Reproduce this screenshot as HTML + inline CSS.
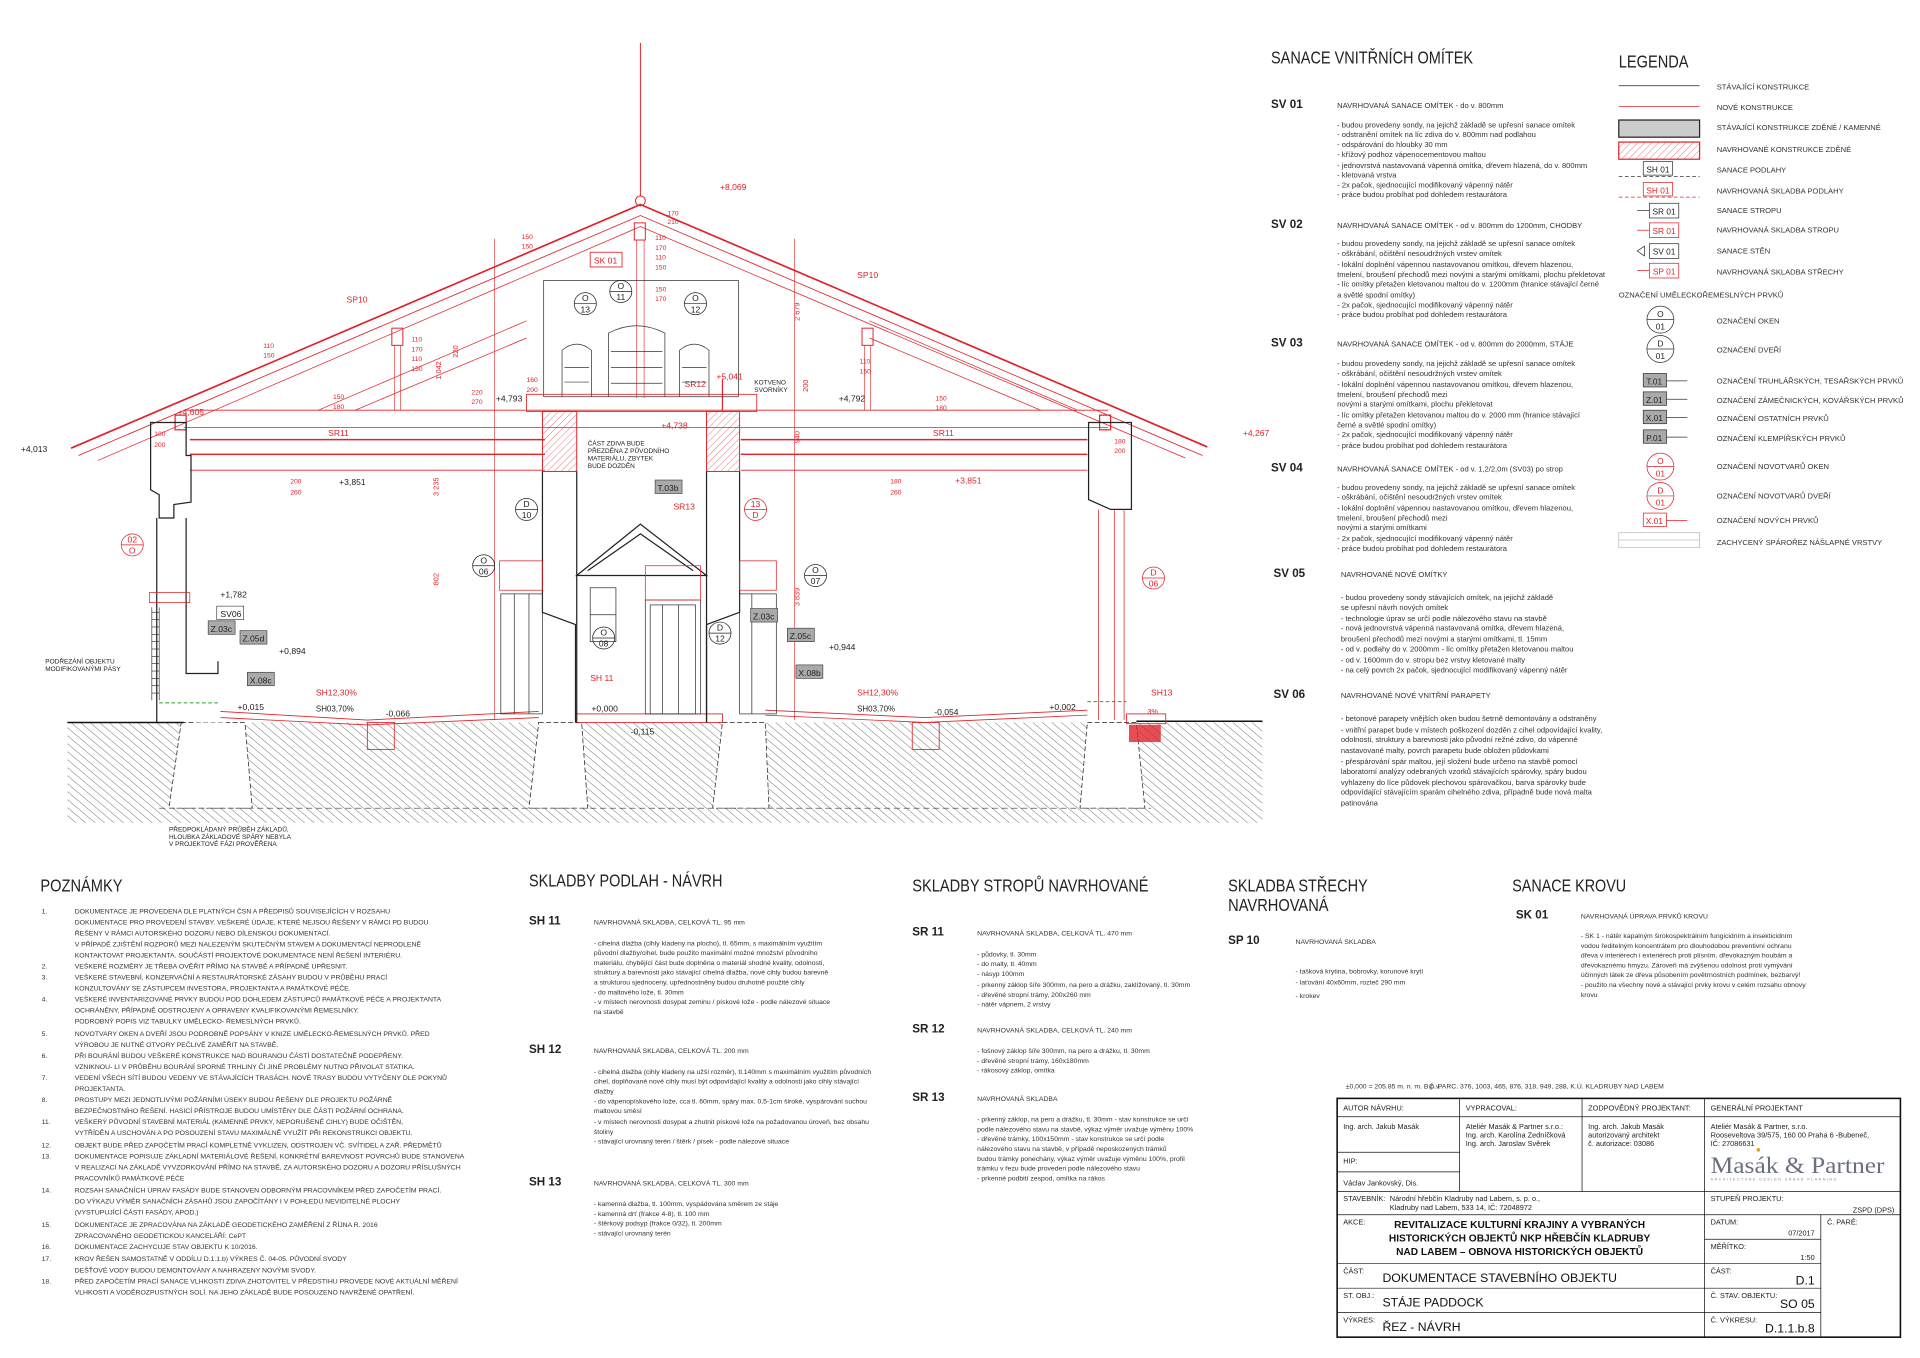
<!DOCTYPE html>
<html><head><meta charset="utf-8"><style>
html,body{margin:0;padding:0;background:#fff;}
svg{display:block}
text{font-family:"Liberation Sans Narrow","Liberation Sans",sans-serif;}
.r{fill:#e0222a}.k{fill:#222}
.h{font-size:14px;fill:#222}
.b{font-size:9.5px;font-weight:bold;fill:#222}
.s{font-size:6.2px;fill:#333}
.t{font-size:5.6px;fill:#333}
.d{font-size:7px}
</style></head><body>
<svg width="1920" height="1358" viewBox="0 0 1568 1109" xmlns="http://www.w3.org/2000/svg">
<defs>
<pattern id="hat" width="5" height="5" patternUnits="userSpaceOnUse" patternTransform="rotate(-50)">
<line x1="0" y1="0" x2="0" y2="5" stroke="#444" stroke-width="0.6"/></pattern>
<pattern id="rhat" width="4" height="4" patternUnits="userSpaceOnUse" patternTransform="rotate(45)">
<line x1="0" y1="0" x2="0" y2="4" stroke="#e0222a" stroke-width="0.5"/></pattern>
</defs>

<!-- ground hatch -->
<rect x="55" y="590" width="976" height="82" fill="url(#hat)"/>
<g fill="#fff" stroke="#222" stroke-width="0.6" stroke-dasharray="4,2">
<polygon points="148,590 200,590 206,660 138,660"/>
<polygon points="158,590 185,590 190,640 162,640" stroke="none"/>
<polygon points="440,590 475,590 480,660 432,660"/>
<polygon points="590,590 625,590 628,660 582,660"/>
<polygon points="888,590 928,590 935,660 882,660"/>
</g>
<line x1="130" y1="660" x2="940" y2="660" stroke="#333" stroke-width="0.6" stroke-dasharray="5,3"/>
<line x1="55" y1="590" x2="150" y2="590" stroke="#111" stroke-width="1.2"/>
<line x1="928" y1="589" x2="1031" y2="589" stroke="#111" stroke-width="1.2"/>

<!-- floors -->
<g stroke="#e0222a" stroke-width="0.7" fill="none">
<path d="M180,586 L300,592 L440,586"/><path d="M180,581 L300,588 L440,581"/>
<path d="M625,584 L755,590 L888,584"/><path d="M625,580 L755,586 L888,580"/>
<rect x="470" y="583" width="120" height="7"/>
<rect x="300" y="590" width="22" height="22"/><rect x="745" y="590" width="22" height="22"/>
<rect x="920" y="583" width="32" height="8"/>
</g>
<rect x="922" y="592" width="26" height="14" fill="#e0222a" opacity="0.8"/>
<g stroke="#2a2" stroke-width="0.8" stroke-dasharray="3,2"><line x1="130" y1="574" x2="180" y2="574"/><line x1="888" y1="573" x2="920" y2="573"/></g>

<!-- roof -->
<g stroke="#e0222a" fill="none">
<polyline points="58,366 523,167 986,365" stroke-width="1.4"/>
<polyline points="64,372 523,176 982,372" stroke-width="0.7"/>
<polyline points="80,376 523,185 968,374" stroke-width="0.6"/>
<circle cx="523" cy="164" r="4" stroke-width="0.8"/>
<line x1="523" y1="35" x2="523" y2="160" stroke-width="0.8"/>
<line x1="150" y1="335" x2="905" y2="335" stroke-width="0.7"/>
<line x1="150" y1="349" x2="905" y2="349" stroke-width="0.7"/>
<line x1="155" y1="359" x2="445" y2="359" stroke-width="1.2"/><line x1="605" y1="359" x2="888" y2="359" stroke-width="1.2"/>
<line x1="155" y1="371" x2="445" y2="371" stroke-width="1.2"/><line x1="605" y1="371" x2="888" y2="371" stroke-width="1.2"/>
<line x1="155" y1="384" x2="445" y2="384" stroke-width="0.7"/><line x1="605" y1="384" x2="888" y2="384" stroke-width="0.7"/>
<line x1="260" y1="335" x2="430" y2="262" stroke-width="0.6"/><line x1="290" y1="335" x2="430" y2="276" stroke-width="0.6"/>
<line x1="880" y1="335" x2="710" y2="262" stroke-width="0.6"/><line x1="850" y1="335" x2="710" y2="276" stroke-width="0.6"/>
<rect x="320" y="268" width="9" height="14" stroke-width="0.8"/><line x1="322" y1="282" x2="322" y2="335" stroke-width="0.5"/><line x1="327" y1="282" x2="327" y2="335" stroke-width="0.5"/>
<rect x="704" y="268" width="9" height="14" stroke-width="0.8"/><line x1="706" y1="282" x2="706" y2="335" stroke-width="0.5"/><line x1="711" y1="282" x2="711" y2="335" stroke-width="0.5"/>
<rect x="518" y="182" width="9" height="14" stroke-width="0.8"/><line x1="520" y1="196" x2="520" y2="325" stroke-width="0.5"/><line x1="526" y1="196" x2="526" y2="325" stroke-width="0.5"/>
<rect x="143" y="339" width="9" height="12"/><rect x="898" y="339" width="9" height="12"/>
<line x1="404" y1="195" x2="404" y2="588" stroke-width="0.5"/>
<line x1="649" y1="195" x2="649" y2="588" stroke-width="0.5"/>
<line x1="590" y1="310" x2="590" y2="336"/>
</g>
<!-- dormer -->
<g stroke="#333" fill="none" stroke-width="0.6">
<rect x="444" y="229" width="159" height="95"/>
<path d="M459,324 V286 Q471,276 483,286 V324"/><path d="M497,324 V272 Q520,260 543,272 V324"/><path d="M555,324 V286 Q567,276 579,286 V324"/>
<line x1="461" y1="300" x2="481" y2="300"/><line x1="461" y1="312" x2="481" y2="312"/>
<line x1="499" y1="287" x2="541" y2="287"/><line x1="499" y1="300" x2="541" y2="300"/><line x1="499" y1="313" x2="541" y2="313"/>
<line x1="557" y1="300" x2="577" y2="300"/><line x1="557" y1="312" x2="577" y2="312"/>
</g>
<g stroke="#e0222a" fill="none" stroke-width="0.7"><rect x="430" y="322" width="188" height="14"/></g>
<rect x="443" y="336" width="28" height="49" fill="url(#rhat)" stroke="#e0222a" stroke-width="0.8"/>
<rect x="577" y="336" width="27" height="49" fill="url(#rhat)" stroke="#e0222a" stroke-width="0.8"/>
<!-- walls black -->
<g stroke="#222" fill="none" stroke-width="1">
<path d="M123,345 H152 V372 H156 V410 L142,412 V423 H130 V404 L123,400 Z"/>
<path d="M152,423 V550 H178 V540"/>
<line x1="128" y1="423" x2="128" y2="590"/>
<path d="M889,345 H924 V416 H907 L889,408 Z"/>
<path d="M443,385 V500 L470,510 V590"/><path d="M471,385 V590"/>
<path d="M604,385 V500 L577,510 V590"/><path d="M577,385 V590"/>
<path d="M471,470 L523,428 L577,470 Z"/><path d="M480,466 L523,436 L566,466"/>
</g>
<g stroke="#333" fill="none" stroke-width="0.6">
<rect x="482" y="480" width="21" height="44"/><line x1="482" y1="502" x2="503" y2="502"/>
<rect x="527" y="490" width="45" height="93"/><rect x="531" y="494" width="37" height="89"/>
<line x1="541" y1="494" x2="541" y2="583"/><line x1="554" y1="494" x2="554" y2="583"/>
<rect x="409" y="485" width="34" height="98"/><line x1="420" y1="485" x2="420" y2="583"/><line x1="432" y1="485" x2="432" y2="583"/>
<rect x="604" y="485" width="30" height="98"/><line x1="614" y1="485" x2="614" y2="583"/>
</g>
<g stroke="#e0222a" fill="none" stroke-width="0.6">
<line x1="897" y1="416" x2="897" y2="588"/><line x1="910" y1="416" x2="910" y2="588"/><line x1="918" y1="416" x2="918" y2="588"/>
<rect x="408" y="458" width="35" height="24"/><rect x="604" y="458" width="30" height="24"/><rect x="527" y="462" width="45" height="28"/>
<path d="M122,484 H155 V492 H122 Z"/>
</g>
<g stroke="#222" stroke-width="0.5">
<line x1="124" y1="496" x2="124" y2="572"/><line x1="130" y1="496" x2="130" y2="572"/>
<line x1="124" y1="500" x2="130" y2="500"/><line x1="124" y1="506" x2="130" y2="506"/><line x1="124" y1="512" x2="130" y2="512"/><line x1="124" y1="518" x2="130" y2="518"/><line x1="124" y1="524" x2="130" y2="524"/><line x1="124" y1="530" x2="130" y2="530"/><line x1="124" y1="536" x2="130" y2="536"/><line x1="124" y1="542" x2="130" y2="542"/><line x1="124" y1="548" x2="130" y2="548"/><line x1="124" y1="554" x2="130" y2="554"/><line x1="124" y1="560" x2="130" y2="560"/><line x1="124" y1="566" x2="130" y2="566"/>
</g>

<!-- red labels in drawing -->
<g class="r d">
<text x="588" y="155">+8,069</text><text x="283" y="247">SP10</text><text x="700" y="227">SP10</text>
<text x="268" y="356">SR11</text><text x="762" y="356">SR11</text><text x="559" y="316">SR12</text><text x="550" y="416">SR13</text>
<text x="145" y="339">+4,605</text><text x="1015" y="356">+4,267</text><text x="540" y="350">+4,738</text><text x="585" y="310">+5,041</text>
<text x="780" y="395">+3,851</text><text x="258" y="568">SH12,30%</text><text x="700" y="568">SH12,30%</text><text x="940" y="568">SH13</text><text x="482" y="556">SH 11</text>
<text x="545" y="176" font-size="5.5">170</text><text x="545" y="183" font-size="5.5">210</text>
<text x="426" y="195" font-size="5.5">150</text><text x="426" y="203" font-size="5.5">150</text>
<text x="535" y="196" font-size="5.5">110</text><text x="535" y="204" font-size="5.5">170</text><text x="535" y="212" font-size="5.5">110</text><text x="535" y="220" font-size="5.5">150</text>
<text x="535" y="238" font-size="5.5">150</text><text x="535" y="246" font-size="5.5">170</text>
<text x="215" y="284" font-size="5.5">110</text><text x="215" y="292" font-size="5.5">150</text>
<text x="336" y="279" font-size="5.5">110</text><text x="336" y="287" font-size="5.5">170</text><text x="336" y="295" font-size="5.5">110</text><text x="336" y="303" font-size="5.5">150</text>
<text x="272" y="326" font-size="5.5">150</text><text x="272" y="334" font-size="5.5">180</text>
<text x="385" y="322" font-size="5.5">220</text><text x="385" y="330" font-size="5.5">270</text>
<text x="430" y="312" font-size="5.5">160</text><text x="430" y="320" font-size="5.5">200</text>
<text x="702" y="297" font-size="5.5">110</text><text x="702" y="305" font-size="5.5">150</text>
<text x="764" y="327" font-size="5.5">150</text><text x="764" y="335" font-size="5.5">180</text>
<text x="126" y="356" font-size="5.5">180</text><text x="126" y="365" font-size="5.5">200</text>
<text x="910" y="362" font-size="5.5">180</text><text x="910" y="370" font-size="5.5">200</text>
<text x="237" y="395" font-size="5.5">200</text><text x="237" y="404" font-size="5.5">260</text>
<text x="727" y="395" font-size="5.5">180</text><text x="727" y="404" font-size="5.5">260</text>
<text x="374" y="292" font-size="6" transform="rotate(-90 374 292)">220</text>
<text x="360" y="310" font-size="6" transform="rotate(-90 360 310)">1 042</text>
<text x="358" y="405" font-size="6" transform="rotate(-90 358 405)">3 235</text>
<text x="358" y="478" font-size="6" transform="rotate(-90 358 478)">802</text>
<text x="653" y="262" font-size="6" transform="rotate(-90 653 262)">2 679</text>
<text x="660" y="320" font-size="6" transform="rotate(-90 660 320)">200</text>
<text x="653" y="362" font-size="6" transform="rotate(-90 653 362)">940</text>
<text x="653" y="495" font-size="6" transform="rotate(-90 653 495)">3 839</text>
<text x="937" y="583" font-size="6">3%</text>
</g>
<rect x="482" y="206" width="26" height="12" fill="none" stroke="#e0222a" stroke-width="0.7"/><text x="485" y="215" class="r d">SK 01</text>
<g class="k d">
<text x="17" y="369">+4,013</text><text x="405" y="328">+4,793</text><text x="685" y="328">+4,792</text><text x="277" y="396">+3,851</text>
<text x="180" y="488">+1,782</text><text x="228" y="534">+0,894</text><text x="677" y="531">+0,944</text><text x="194" y="580">+0,015</text>
<text x="483" y="581">+0,000</text><text x="315" y="585">-0,066</text><text x="515" y="600">-0,115</text><text x="763" y="584">-0,054</text><text x="857" y="580">+0,002</text>
<text x="258" y="581" font-size="6.5">SH03,70%</text><text x="700" y="581" font-size="6.5">SH03,70%</text>
</g>
<g class="k" font-size="5.3">
<text x="480" y="364">ČÁST ZDIVA BUDE</text><text x="480" y="370">PŘEZDĚNA Z PŮVODNÍHO</text><text x="480" y="376">MATERIÁLU, ZBYTEK</text><text x="480" y="382">BUDE DOZDĚN</text>
<text x="616" y="314">KOTVENO</text><text x="616" y="320">SVORNÍKY</text>
<text x="37" y="542">PODŘEZÁNÍ OBJEKTU</text><text x="37" y="548">MODIFIKOVANÝMI PÁSY</text>
<text x="138" y="679">PŘEDPOKLÁDANÝ PRŮBĚH ZÁKLADŮ,</text><text x="138" y="685">HLOUBKA ZÁKLADOVÉ SPÁRY NEBYLA</text><text x="138" y="691">V PROJEKTOVÉ FÁZI PROVĚŘENA</text>
</g>
<g font-size="7" fill="#222">
<rect x="535" y="392" width="22" height="11" fill="#aaa" stroke="#333" stroke-width="0.5"/><text x="537" y="401">T.03b</text>
<rect x="170" y="507" width="22" height="11" fill="#aaa" stroke="#333" stroke-width="0.5"/><text x="172" y="516">Z.03c</text>
<rect x="196" y="515" width="22" height="11" fill="#aaa" stroke="#333" stroke-width="0.5"/><text x="198" y="524">Z.05d</text>
<rect x="202" y="549" width="22" height="11" fill="#aaa" stroke="#333" stroke-width="0.5"/><text x="204" y="558">X.08c</text>
<rect x="613" y="497" width="22" height="11" fill="#aaa" stroke="#333" stroke-width="0.5"/><text x="615" y="506">Z.03c</text>
<rect x="643" y="513" width="22" height="11" fill="#aaa" stroke="#333" stroke-width="0.5"/><text x="645" y="522">Z.05c</text>
<rect x="650" y="543" width="22" height="11" fill="#aaa" stroke="#333" stroke-width="0.5"/><text x="652" y="552">X.08b</text>
<rect x="177" y="495" width="22" height="11" fill="#fff" stroke="#333" stroke-width="0.5"/><text x="180" y="504">SV06</text>
</g>
<g font-size="7" text-anchor="middle" stroke-width="0.6">
<g stroke="#222" fill="none"><circle cx="478" cy="248" r="9"/><circle cx="507" cy="238" r="9"/><circle cx="568" cy="248" r="9"/><circle cx="430" cy="416" r="9"/><circle cx="395" cy="462" r="9"/><circle cx="666" cy="470" r="9"/><circle cx="493" cy="521" r="9"/><circle cx="588" cy="517" r="9"/>
<line x1="469" y1="248" x2="487" y2="248"/><line x1="498" y1="238" x2="516" y2="238"/><line x1="559" y1="248" x2="577" y2="248"/><line x1="421" y1="416" x2="439" y2="416"/><line x1="386" y1="462" x2="404" y2="462"/><line x1="657" y1="470" x2="675" y2="470"/><line x1="484" y1="521" x2="502" y2="521"/><line x1="579" y1="517" x2="597" y2="517"/></g>
<g stroke="#e0222a" fill="none"><circle cx="617" cy="416" r="9"/><circle cx="108" cy="445" r="9"/><circle cx="942" cy="472" r="9"/><line x1="608" y1="416" x2="626" y2="416"/><line x1="99" y1="445" x2="117" y2="445"/><line x1="933" y1="472" x2="951" y2="472"/></g>
<g fill="#222"><text x="478" y="246">O</text><text x="478" y="255">13</text><text x="507" y="236">O</text><text x="507" y="245">11</text><text x="568" y="246">O</text><text x="568" y="255">12</text><text x="430" y="414">D</text><text x="430" y="423">10</text><text x="395" y="460">O</text><text x="395" y="469">06</text><text x="666" y="468">O</text><text x="666" y="477">07</text><text x="493" y="519">O</text><text x="493" y="528">08</text><text x="588" y="515">D</text><text x="588" y="524">12</text></g>
<g fill="#e0222a"><text x="617" y="414">13</text><text x="617" y="423">D</text><text x="108" y="443">02</text><text x="108" y="452">O</text><text x="942" y="470">D</text><text x="942" y="479">06</text></g>
</g>

<!-- SANACE VNITŘNÍCH OMÍTEK -->
<text x="1038" y="52" class="h" textLength="165" lengthAdjust="spacingAndGlyphs">SANACE VNITŘNÍCH OMÍTEK</text>
<g class="b"><text x="1038" y="88">SV 01</text><text x="1038" y="186">SV 02</text><text x="1038" y="283">SV 03</text><text x="1038" y="385">SV 04</text><text x="1040" y="471">SV 05</text><text x="1040" y="570">SV 06</text></g>
<g class="s">
<text x="1092" y="88">NAVRHOVANÁ SANACE OMÍTEK - do v. 800mm</text>
<text x="1092" y="104">- budou provedeny sondy, na jejichž základě se upřesní sanace omítek</text>
<text x="1092" y="112">- odstranění omítek na líc zdiva do v. 800mm nad podlahou</text>
<text x="1092" y="120">- odspárování do hloubky 30 mm</text>
<text x="1092" y="128">- křížový podhoz vápenocementovou maltou</text>
<text x="1092" y="137">- jednovrstvá nastavovaná vápenná omítka, dřevem hlazená, do v. 800mm</text>
<text x="1092" y="145">- kletovaná vrstva</text>
<text x="1092" y="153">- 2x pačok, sjednocující modifikovaný vápenný nátěr</text>
<text x="1092" y="161">- práce budou probíhat pod dohledem restaurátora</text>
<text x="1092" y="186">NAVRHOVANÁ SANACE OMÍTEK - od v. 800mm do 1200mm, CHODBY</text>
<text x="1092" y="201">- budou provedeny sondy, na jejichž základě se upřesní sanace omítek</text>
<text x="1092" y="209">- oškrábání, očištění nesoudržných vrstev omítek</text>
<text x="1092" y="218">- lokální doplnění vápennou nastavovanou omítkou, dřevem hlazenou,</text>
<text x="1092" y="226">tmelení, broušení přechodů mezi novými a starými omítkami, plochu překletovat</text>
<text x="1092" y="234">- líc omítky přetažen kletovanou maltou do v. 1200mm (hranice stávající černé</text>
<text x="1092" y="243">a světlé spodní omítky)</text>
<text x="1092" y="251">- 2x pačok, sjednocující modifikovaný vápenný nátěr</text>
<text x="1092" y="259">- práce budou probíhat pod dohledem restaurátora</text>
<text x="1092" y="283">NAVRHOVANÁ SANACE OMÍTEK - od v. 800mm do 2000mm, STÁJE</text>
<text x="1092" y="299">- budou provedeny sondy, na jejichž základě se upřesní sanace omítek</text>
<text x="1092" y="307">- oškrábání, očištění nesoudržných vrstev omítek</text>
<text x="1092" y="316">- lokální doplnění vápennou nastavovanou omítkou, dřevem hlazenou,</text>
<text x="1092" y="324">tmelení, broušení přechodů mezi</text>
<text x="1092" y="332">novými a starými omítkami, plochu překletovat</text>
<text x="1092" y="341">- líc omítky přetažen kletovanou maltou do v. 2000 mm (hranice stávající</text>
<text x="1092" y="349">černé a světlé spodní omítky)</text>
<text x="1092" y="357">- 2x pačok, sjednocující modifikovaný vápenný nátěr</text>
<text x="1092" y="366">- práce budou probíhat pod dohledem restaurátora</text>
<text x="1092" y="385">NAVRHOVANÁ SANACE OMÍTEK - od v. 1,2/2,0m (SV03) po strop</text>
<text x="1092" y="400">- budou provedeny sondy, na jejichž základě se upřesní sanace omítek</text>
<text x="1092" y="408">- oškrábání, očištění nesoudržných vrstev omítek</text>
<text x="1092" y="417">- lokální doplnění vápennou nastavovanou omítkou, dřevem hlazenou,</text>
<text x="1092" y="425">tmelení, broušení přechodů mezi</text>
<text x="1092" y="433">novými a starými omítkami</text>
<text x="1092" y="442">- 2x pačok, sjednocující modifikovaný vápenný nátěr</text>
<text x="1092" y="450">- práce budou probíhat pod dohledem restaurátora</text>
<text x="1095" y="471">NAVRHOVANÉ NOVÉ OMÍTKY</text>
<text x="1095" y="490">- budou provedeny sondy stávajících omítek, na jejichž základě</text>
<text x="1095" y="498"> se upřesní návrh nových omítek</text>
<text x="1095" y="507">- technologie úprav se určí podle nálezového stavu na stavbě</text>
<text x="1095" y="515">- nová jednovrstvá vápenná nastavovaná omítka, dřevem hlazená,</text>
<text x="1095" y="524">broušení přechodů mezi novými a starými omítkami, tl. 15mm</text>
<text x="1095" y="532">- od v. podlahy do v. 2000mm - líc omítky přetažen kletovanou maltou</text>
<text x="1095" y="541">- od v. 1600mm do v. stropu bez vrstvy kletované malty</text>
<text x="1095" y="549">- na celý povrch 2x pačok, sjednocující modifikovaný vápenný nátěr</text>
<text x="1095" y="570">NAVRHOVANÉ NOVÉ VNITŘNÍ PARAPETY</text>
<text x="1095" y="589">- betonové parapety vnějších oken budou šetrně demontovány a odstraněny</text>
<text x="1095" y="598">- vnitřní parapet bude v místech poškození dozděn z cihel odpovídající kvality,</text>
<text x="1095" y="606">odolnosti, struktury a barevnosti jako původní režné zdivo,  do vápenné</text>
<text x="1095" y="615">nastavované malty, povrch parapetu bude obložen půdovkami</text>
<text x="1095" y="624">- přespárování spár maltou, její složení bude určeno na stavbě pomocí</text>
<text x="1095" y="632">laboratorní analýzy odebraných vzorků stávajících spárovky, spáry budou</text>
<text x="1095" y="641">vyhlazeny do líce půdovek plechovou spárovačkou, barva spárovky bude</text>
<text x="1095" y="649">odpovídající stávajícím sparám cihelného zdiva, případně bude nová malta</text>
<text x="1095" y="658">patinována</text>
</g>

<!-- LEGENDA -->
<text x="1322" y="55" class="h" textLength="57" lengthAdjust="spacingAndGlyphs">LEGENDA</text>
<g class="s">
<text x="1402" y="73">STÁVAJÍCÍ KONSTRUKCE</text><text x="1402" y="90">NOVÉ KONSTRUKCE</text><text x="1402" y="106">STÁVAJÍCÍ KONSTRUKCE ZDĚNÉ / KAMENNÉ</text>
<text x="1402" y="124">NAVRHOVANÉ KONSTRUKCE ZDĚNÉ</text><text x="1402" y="141">SANACE PODLAHY</text><text x="1402" y="158">NAVRHOVANÁ SKLADBA PODLAHY</text>
<text x="1402" y="174">SANACE STROPU</text><text x="1402" y="190">NAVRHOVANÁ SKLADBA STROPU</text><text x="1402" y="207">SANACE STĚN</text><text x="1402" y="224">NAVRHOVANÁ SKLADBA STŘECHY</text>
<text x="1322" y="243">OZNAČENÍ UMĚLECKOŘEMESLNÝCH PRVKŮ</text>
<text x="1402" y="264">OZNAČENÍ OKEN</text><text x="1402" y="288">OZNAČENÍ DVEŘÍ</text><text x="1402" y="313">OZNAČENÍ TRUHLÁŘSKÝCH, TESAŘSKÝCH PRVKŮ</text>
<text x="1402" y="329">OZNAČENÍ ZÁMEČNICKÝCH, KOVÁŘSKÝCH PRVKŮ</text><text x="1402" y="344">OZNAČENÍ OSTATNÍCH PRVKŮ</text><text x="1402" y="360">OZNAČENÍ KLEMPÍŘSKÝCH PRVKŮ</text>
<text x="1402" y="383">OZNAČENÍ NOVOTVARŮ OKEN</text><text x="1402" y="407">OZNAČENÍ NOVOTVARŮ DVEŘÍ</text><text x="1402" y="427">OZNAČENÍ NOVÝCH PRVKŮ</text><text x="1402" y="445">ZACHYCENÝ SPÁROŘEZ NÁŠLAPNÉ VRSTVY</text>
</g>
<g stroke-width="0.6" fill="none">
<line x1="1322" y1="70" x2="1388" y2="70" stroke="#222"/><line x1="1322" y1="87" x2="1388" y2="87" stroke="#e0222a"/>
<rect x="1322" y="98" width="66" height="14" fill="#ccc" stroke="#222" stroke-width="1"/>
<rect x="1322" y="116" width="66" height="14" fill="url(#rhat)" stroke="#e0222a" stroke-width="1"/>
<line x1="1322" y1="144" x2="1388" y2="144" stroke="#333" stroke-dasharray="3,2"/><rect x="1342" y="132" width="24" height="11" fill="#fff" stroke="#333"/>
<line x1="1322" y1="161" x2="1388" y2="161" stroke="#e0222a" stroke-dasharray="3,2"/><rect x="1342" y="149" width="24" height="11" fill="#fff" stroke="#e0222a"/>
<rect x="1347" y="166" width="24" height="12" stroke="#333"/><line x1="1337" y1="172" x2="1347" y2="172" stroke="#333"/>
<rect x="1347" y="182" width="24" height="12" stroke="#e0222a"/><line x1="1337" y1="188" x2="1347" y2="188" stroke="#e0222a"/>
<rect x="1347" y="199" width="24" height="12" stroke="#333"/><polygon points="1337,205 1343,201 1343,209" stroke="#333"/>
<rect x="1347" y="215" width="24" height="12" stroke="#e0222a"/><line x1="1337" y1="221" x2="1347" y2="221" stroke="#e0222a"/>
<circle cx="1356" cy="261" r="11" stroke="#333"/><line x1="1345" y1="261" x2="1367" y2="261" stroke="#333"/>
<circle cx="1356" cy="285" r="11" stroke="#333"/><line x1="1345" y1="285" x2="1367" y2="285" stroke="#333"/>
<circle cx="1356" cy="381" r="11" stroke="#e0222a"/><line x1="1345" y1="381" x2="1367" y2="381" stroke="#e0222a"/>
<circle cx="1356" cy="405" r="11" stroke="#e0222a"/><line x1="1345" y1="405" x2="1367" y2="405" stroke="#e0222a"/>
<rect x="1342" y="305" width="19" height="11" fill="#aaa" stroke="#333"/><line x1="1361" y1="311" x2="1378" y2="311" stroke="#333"/>
<rect x="1342" y="320" width="19" height="11" fill="#aaa" stroke="#333"/><line x1="1361" y1="326" x2="1378" y2="326" stroke="#333"/>
<rect x="1342" y="335" width="19" height="11" fill="#aaa" stroke="#333"/><line x1="1361" y1="341" x2="1378" y2="341" stroke="#333"/>
<rect x="1342" y="351" width="19" height="11" fill="#aaa" stroke="#333"/><line x1="1361" y1="357" x2="1378" y2="357" stroke="#333"/>
<rect x="1342" y="419" width="19" height="11" stroke="#e0222a"/><line x1="1361" y1="425" x2="1378" y2="425" stroke="#e0222a"/>
<rect x="1322" y="435" width="66" height="12" stroke="#bbb"/><line x1="1322" y1="441" x2="1388" y2="441" stroke="#bbb"/>
</g>
<g font-size="6.8" text-anchor="middle">
<text x="1354" y="141" fill="#222">SH 01</text><text x="1354" y="158" fill="#e0222a">SH 01</text><text x="1359" y="175" fill="#222">SR 01</text><text x="1359" y="191" fill="#e0222a">SR 01</text><text x="1359" y="208" fill="#222">SV 01</text><text x="1359" y="224" fill="#e0222a">SP 01</text>
<text x="1356" y="259" fill="#222">O</text><text x="1356" y="269" fill="#222">01</text><text x="1356" y="283" fill="#222">D</text><text x="1356" y="293" fill="#222">01</text>
<text x="1356" y="379" fill="#e0222a">O</text><text x="1356" y="389" fill="#e0222a">01</text><text x="1356" y="403" fill="#e0222a">D</text><text x="1356" y="413" fill="#e0222a">01</text>
<text x="1351" y="314" fill="#222">T.01</text><text x="1351" y="329" fill="#222">Z.01</text><text x="1351" y="344" fill="#222">X.01</text><text x="1351" y="360" fill="#222">P.01</text><text x="1351" y="428" fill="#e0222a">X.01</text>
</g>

<!-- POZNÁMKY -->
<text x="33" y="728" class="h" textLength="67" lengthAdjust="spacingAndGlyphs">POZNÁMKY</text>
<g class="t">
<text x="34" y="746">1.</text><text x="61" y="746">DOKUMENTACE JE PROVEDENA DLE PLATNÝCH ČSN A PŘEDPISŮ SOUVISEJÍCÍCH V ROZSAHU</text>
<text x="61" y="755">DOKUMENTACE PRO PROVEDENÍ STAVBY. VEŠKERÉ ÚDAJE, KTERÉ NEJSOU ŘEŠENY V RÁMCI PD BUDOU</text>
<text x="61" y="764">ŘEŠENY V RÁMCI AUTORSKÉHO DOZORU NEBO DÍLENSKOU DOKUMENTACÍ.</text>
<text x="61" y="773">V PŘÍPADĚ ZJIŠTĚNÍ ROZPORŮ MEZI NALEZENÝM SKUTEČNÝM STAVEM A DOKUMENTACÍ  NEPRODLENĚ</text>
<text x="61" y="782">KONTAKTOVAT PROJEKTANTA. SOUČÁSTÍ PROJEKTOVÉ DOKUMENTACE NENÍ ŘEŠENÍ INTERIÉRU.</text>
<text x="34" y="791">2.</text><text x="61" y="791">VEŠKERÉ ROZMĚRY JE TŘEBA OVĚŘIT PŘÍMO NA STAVBĚ A PŘÍPADNĚ UPŘESNIT.</text>
<text x="34" y="800">3.</text><text x="61" y="800">VEŠKERÉ STAVEBNÍ, KONZERVAČNÍ A RESTAURÁTORSKÉ ZÁSAHY BUDOU V PRŮBĚHU PRACÍ</text>
<text x="61" y="809">KONZULTOVÁNY SE ZÁSTUPCEM INVESTORA, PROJEKTANTA A PAMÁTKOVÉ PÉČE.</text>
<text x="34" y="818">4.</text><text x="61" y="818">VEŠKERÉ INVENTARIZOVANÉ PRVKY BUDOU POD DOHLEDEM ZÁSTUPCŮ PAMÁTKOVÉ PÉČE A PROJEKTANTA</text>
<text x="61" y="827">OCHRÁNĚNY, PŘÍPADNĚ ODSTROJENY A OPRAVENY KVALIFIKOVANÝMI ŘEMESLNÍKY.</text>
<text x="61" y="836">PODROBNÝ POPIS VIZ TABULKY UMĚLECKO- ŘEMESLNÝCH PRVKŮ.</text>
<text x="34" y="846">5.</text><text x="61" y="846">NOVOTVARY OKEN A DVEŘÍ JSOU PODROBNĚ POPSÁNY V KNIZE UMĚLECKO-ŘEMESLNÝCH PRVKŮ. PŘED</text>
<text x="61" y="855">VÝROBOU JE NUTNÉ OTVORY PEČLIVĚ ZAMĚŘIT NA STAVBĚ.</text>
<text x="34" y="864">6.</text><text x="61" y="864">PŘI BOURÁNÍ BUDOU VEŠKERÉ KONSTRUKCE NAD BOURANOU ČÁSTÍ DOSTATEČNĚ PODEPŘENY.</text>
<text x="61" y="873">VZNIKNOU- LI V PRŮBĚHU BOURÁNÍ SPORNÉ TRHLINY ČI JINÉ PROBLÉMY NUTNO PŘIVOLAT STATIKA.</text>
<text x="34" y="882">7.</text><text x="61" y="882">VEDENÍ VŠECH SÍTÍ BUDOU VEDENY VE STÁVAJÍCÍCH TRASÁCH. NOVÉ TRASY BUDOU VYTYČENY DLE POKYNŮ</text>
<text x="61" y="891">PROJEKTANTA.</text>
<text x="34" y="900">8.</text><text x="61" y="900">PROSTUPY MEZI JEDNOTLIVÝMI POŽÁRNÍMI ÚSEKY BUDOU ŘEŠENY DLE PROJEKTU POŽÁRNĚ</text>
<text x="61" y="909">BEZPEČNOSTNÍHO ŘEŠENÍ. HASICÍ PŘÍSTROJE BUDOU UMÍSTĚNY DLE ČÁSTI POŽÁRNÍ OCHRANA.</text>
<text x="34" y="918">11.</text><text x="61" y="918">VEŠKERÝ PŮVODNÍ STAVEBNÍ MATERIÁL (KAMENNÉ PRVKY, NEPORUŠENÉ CIHLY) BUDE OČIŠTĚN,</text>
<text x="61" y="927">VYTŘÍDĚN A USCHOVÁN A PO POSOUZENÍ STAVU MAXIMÁLNĚ VYUŽÍT PŘI REKONSTRUKCI OBJEKTU.</text>
<text x="34" y="937">12.</text><text x="61" y="937">OBJEKT BUDE PŘED ZAPOČETÍM PRACÍ KOMPLETNĚ VYKLIZEN, ODSTROJEN VČ. SVÍTIDEL A ZAŘ. PŘEDMĚTŮ</text>
<text x="34" y="946">13.</text><text x="61" y="946">DOKUMENTACE POPISUJE ZÁKLADNÍ MATERIÁLOVÉ ŘEŠENÍ, KONKRÉTNÍ BAREVNOST POVRCHŮ BUDE STANOVENA</text>
<text x="61" y="955">V REALIZACI NA ZÁKLADĚ VYVZORKOVÁNÍ PŘÍMO NA STAVBĚ, ZA AUTORSKÉHO DOZORU A DOZORU PŘÍSLUŠNÝCH</text>
<text x="61" y="964">PRACOVNÍKŮ PAMÁTKOVÉ PÉČE</text>
<text x="34" y="974">14.</text><text x="61" y="974">ROZSAH SANAČNÍCH ÚPRAV FASÁDY BUDE STANOVEN ODBORNÝM PRACOVNÍKEM PŘED ZAPOČETÍM PRACÍ.</text>
<text x="61" y="983"> DO VÝKAZU VÝMĚR SANAČNÍCH ZÁSAHŮ JSOU ZAPOČÍTÁNY I V POHLEDU NEVIDITELNÉ PLOCHY</text>
<text x="61" y="992">(VYSTUPUJÍCÍ ČÁSTI FASÁDY,  APOD.)</text>
<text x="34" y="1002">15.</text><text x="61" y="1002">DOKUMENTACE JE ZPRACOVÁNA NA ZÁKLADĚ GEODETICKÉHO ZAMĚŘENÍ Z ŘÍJNA R. 2016</text>
<text x="61" y="1011">ZPRACOVANÉHO GEODETICKOU KANCELÁŘÍ: CePT</text>
<text x="34" y="1020">16.</text><text x="61" y="1020">DOKUMENTACE ZACHYCUJE STAV OBJEKTU K 10/2016.</text>
<text x="34" y="1030">17.</text><text x="61" y="1030">KROV ŘEŠEN SAMOSTATNĚ V ODDÍLU D.1.1.b) VÝKRES Č. 04-05. PŮVODNÍ SVODY</text>
<text x="61" y="1039">DEŠŤOVÉ VODY BUDOU DEMONTOVÁNY A NAHRAZENY NOVÝMI SVODY.</text>
<text x="34" y="1048">18.</text><text x="61" y="1048">PŘED ZAPOČETÍM PRACÍ SANACE VLHKOSTI ZDIVA ZHOTOVITEL V PŘEDSTIHU PROVEDE NOVÉ AKTUÁLNÍ MĚŘENÍ</text>
<text x="61" y="1057">VLHKOSTI A VODĚROZPUSTNÝCH SOLÍ. NA JEHO ZÁKLADĚ BUDE POSOUZENO NAVRŽENÉ OPATŘENÍ.</text>
</g>

<!-- SKLADBY PODLAH -->
<text x="432" y="724" class="h" textLength="158" lengthAdjust="spacingAndGlyphs">SKLADBY PODLAH - NÁVRH</text>
<g class="b"><text x="432" y="755">SH 11</text><text x="432" y="860">SH 12</text><text x="432" y="968">SH 13</text></g>
<g class="t">
<text x="485" y="755">NAVRHOVANÁ SKLADBA, CELKOVÁ TL. 95 mm</text>
<text x="485" y="772">- cihelná dlažba (cihly kladeny na plocho), tl. 65mm, s maximálním využitím</text>
<text x="485" y="780">původní dlažby/cihel, bude použito maximální možné množství původního</text>
<text x="485" y="788">materiálu, chybějící část bude doplněna o materiál shodné kvality, odolnosti,</text>
<text x="485" y="796">struktury a barevnosti jako stávající cihelná dlažba,  nové cihly budou barevně</text>
<text x="485" y="804">a strukturou sjednoceny, upřednostněny budou druhotně použité cihly</text>
<text x="485" y="812">- do maltového lože, tl. 30mm</text>
<text x="485" y="820">- v místech nerovnosti dosypat zeminu / pískové lože - podle nálezové situace</text>
<text x="485" y="828">na stavbě</text>
<text x="485" y="860">NAVRHOVANÁ SKLADBA, CELKOVÁ TL. 200 mm</text>
<text x="485" y="877">- cihelná dlažba (cihly kladeny na užší rozměr), tl.140mm s maximálním využitím původních</text>
<text x="485" y="885">cihel, doplňované nové cihly musí být odpovídající kvality a odolnosti jako cihly stávající</text>
<text x="485" y="893">dlažby</text>
<text x="485" y="901">- do vápenopískového lože, cca tl. 60mm, spáry max. 0,5-1cm široké, vyspárování suchou</text>
<text x="485" y="909">maltovou směsí</text>
<text x="485" y="918">- v místech nerovnosti dosypat a zhutnit pískové lože na požadovanou úroveň, bez obsahu</text>
<text x="485" y="926">štoliny</text>
<text x="485" y="934">- stávající urovnaný terén / štěrk / písek - podle nálezové situace</text>
<text x="485" y="968">NAVRHOVANÁ SKLADBA, CELKOVÁ TL. 300 mm</text>
<text x="485" y="985">- kamenná dlažba, tl. 100mm, vyspádována směrem ze stáje</text>
<text x="485" y="993">- kamenná drť (frakce 4-8), tl. 100 mm</text>
<text x="485" y="1001">- štěrkový podsyp (frakce 0/32), tl. 200mm</text>
<text x="485" y="1009">- stávající urovnaný terén</text>
</g>

<!-- SKLADBY STROPŮ -->
<text x="745" y="728" class="h" textLength="193" lengthAdjust="spacingAndGlyphs">SKLADBY STROPŮ NAVRHOVANÉ</text>
<g class="b"><text x="745" y="764">SR 11</text><text x="745" y="843">SR 12</text><text x="745" y="899">SR 13</text></g>
<g class="t">
<text x="798" y="764">NAVRHOVANÁ SKLADBA, CELKOVÁ TL. 470 mm</text>
<text x="798" y="781">- půdovky, tl. 30mm</text><text x="798" y="789">- do malty, tl. 40mm</text><text x="798" y="797">- násyp 100mm</text>
<text x="798" y="806">- prkenný záklop šíře 300mm, na pero a drážku, zaklížovaný, tl. 30mm</text>
<text x="798" y="814">- dřevěné stropní trámy, 200x260 mm</text><text x="798" y="822">- nátěr vápnem, 2 vrstvy</text>
<text x="798" y="843">NAVRHOVANÁ SKLADBA, CELKOVÁ TL. 240 mm</text>
<text x="798" y="860">- fošnový záklop šíře 300mm, na pero a drážku, tl. 30mm</text>
<text x="798" y="868">- dřevěné stropní trámy, 160x180mm</text><text x="798" y="876">- rákosový záklop, omítka</text>
<text x="798" y="899">NAVRHOVANÁ SKLADBA</text>
<text x="798" y="916">- prkenný záklop, na pero a drážku, tl. 30mm - stav konstrukce se určí</text>
<text x="798" y="924">podle nálezového stavu na stavbě, výkaz výměr uvažuje výměnu 100%</text>
<text x="798" y="932">- dřevěné trámky, 100x150mm - stav konstrukce se určí podle</text>
<text x="798" y="940">nálezového stavu na stavbě, v případě neposkozených trámků</text>
<text x="798" y="948">budou trámky ponechány, výkaz výměr uvažuje výměnu 100%, profil</text>
<text x="798" y="956">trámku v řezu bude proveden podle nálezového stavu</text>
<text x="798" y="964">- prkenné podbití zespod, omítka na rákos</text>
</g>

<!-- SKLADBA STŘECHY -->
<text x="1003" y="728" class="h" textLength="114" lengthAdjust="spacingAndGlyphs">SKLADBA STŘECHY</text><text x="1003" y="744" class="h" textLength="82" lengthAdjust="spacingAndGlyphs">NAVRHOVANÁ</text>
<text x="1003" y="771" class="b">SP 10</text>
<g class="t"><text x="1058" y="771">NAVRHOVANÁ SKLADBA</text><text x="1058" y="795">- tašková krytina, bobrovky, korunové krytí</text><text x="1058" y="804">- laťování 40x60mm, rozteč 290 mm</text><text x="1058" y="815">- krokev</text></g>

<!-- SANACE KROVU -->
<text x="1235" y="728" class="h" textLength="93" lengthAdjust="spacingAndGlyphs">SANACE KROVU</text>
<text x="1238" y="750" class="b">SK 01</text>
<g class="t"><text x="1291" y="750">NAVRHOVANÁ ÚPRAVA PRVKŮ KROVU</text>
<text x="1291" y="766">- SK 1 - nátěr kapalným širokospektrálním fungicidním a insekticidním</text>
<text x="1291" y="774">vodou ředitelným koncentrátem pro dlouhodobou preventivní ochranu</text>
<text x="1291" y="782">dřeva v interiérech i exteriérech proti plísním, dřevokazným houbám a</text>
<text x="1291" y="790">dřevokaznému hmyzu. Zároveň má zvýšenou odolnost proti vymývání</text>
<text x="1291" y="798">účinných látek ze dřeva působením povětrnostních podmínek, bezbarvý!</text>
<text x="1291" y="806">- použito na všechny nové a stávající prvky krovu v celém rozsahu obnovy</text>
<text x="1291" y="814">krovu</text></g>

<!-- title block -->
<g class="t"><text x="1099" y="889">±0,000 = 205.85 m. n. m. B.p.v.</text><text x="1167" y="889">Č. PARC. 376, 1003, 465, 876, 318, 949, 288, K.Ú. KLADRUBY NAD LABEM</text></g>
<g stroke="#111" fill="none">
<rect x="1092" y="897" width="460" height="195" stroke-width="1.3"/>
<g stroke-width="0.6">
<line x1="1092" y1="912" x2="1552" y2="912"/>
<line x1="1192" y1="897" x2="1192" y2="973"/><line x1="1292" y1="897" x2="1292" y2="973"/><line x1="1392" y1="897" x2="1392" y2="1092"/>
<line x1="1092" y1="941" x2="1192" y2="941"/><line x1="1092" y1="957" x2="1192" y2="957"/>
<line x1="1092" y1="973" x2="1552" y2="973"/><line x1="1092" y1="992" x2="1552" y2="992"/>
<line x1="1092" y1="1032" x2="1392" y2="1032"/><line x1="1092" y1="1052" x2="1392" y2="1052"/><line x1="1092" y1="1072" x2="1392" y2="1072"/>
<line x1="1392" y1="1012" x2="1487" y2="1012"/><line x1="1392" y1="1032" x2="1487" y2="1032"/><line x1="1392" y1="1052" x2="1487" y2="1052"/><line x1="1392" y1="1072" x2="1487" y2="1072"/>
<line x1="1487" y1="992" x2="1487" y2="1092"/>
</g></g>
<g font-size="6" fill="#222">
<text x="1097" y="907">AUTOR NÁVRHU:</text><text x="1197" y="907">VYPRACOVAL:</text><text x="1297" y="907">ZODPOVĚDNÝ PROJEKTANT:</text><text x="1397" y="907">GENERÁLNÍ PROJEKTANT</text>
<text x="1097" y="922">Ing. arch. Jakub Masák</text>
<text x="1197" y="922">Ateliér Masák &amp; Partner s.r.o.:</text><text x="1197" y="929">Ing. arch. Karolína Zedníčková</text><text x="1197" y="936">Ing. arch. Jaroslav Svěrek</text>
<text x="1297" y="922">Ing. arch. Jakub Masák</text><text x="1297" y="929">autorizovaný architekt</text><text x="1297" y="936">č. autorizace: 03086</text>
<text x="1397" y="922">Ateliér Masák &amp; Partner, s.r.o.</text><text x="1397" y="929">Rooseveltova 39/575, 160 00 Praha 6 -Bubeneč,</text><text x="1397" y="936">IČ: 27086631</text>
<text x="1097" y="950">HIP:</text><text x="1097" y="968">Václav Jankovský, Dis.</text>
<text x="1097" y="981">STAVEBNÍK:</text><text x="1135" y="981">Národní hřebčín Kladruby nad Labem, s. p. o.,</text><text x="1135" y="988">Kladruby nad Labem, 533 14, IČ: 72048972</text>
<text x="1397" y="981">STUPEŇ PROJEKTU:</text><text x="1547" y="990" text-anchor="end">ZSPD (DPS)</text>
<text x="1097" y="1000">AKCE:</text>
<text x="1397" y="1000">DATUM:</text><text x="1482" y="1009" text-anchor="end">07/2017</text><text x="1492" y="1000">Č. PARÉ:</text>
<text x="1397" y="1020">MĚŘÍTKO:</text><text x="1482" y="1029" text-anchor="end">1:50</text>
<text x="1097" y="1040">ČÁST:</text><text x="1397" y="1040">ČÁST:</text>
<text x="1097" y="1060">ST. OBJ.:</text><text x="1397" y="1060">Č. STAV. OBJEKTU:</text>
<text x="1097" y="1080">VÝKRES:</text><text x="1397" y="1080">Č. VÝKRESU:</text>
</g>
<g font-size="8.3" font-weight="bold" fill="#111" text-anchor="middle">
<text x="1241" y="1003" style="font-family:'Liberation Sans',sans-serif">REVITALIZACE KULTURNÍ KRAJINY A VYBRANÝCH</text>
<text x="1241" y="1014" style="font-family:'Liberation Sans',sans-serif">HISTORICKÝCH OBJEKTŮ NKP HŘEBČÍN KLADRUBY</text>
<text x="1241" y="1025" style="font-family:'Liberation Sans',sans-serif">NAD LABEM – OBNOVA HISTORICKÝCH OBJEKTŮ</text>
</g>
<g font-size="10" fill="#111">
<text x="1129" y="1047">DOKUMENTACE STAVEBNÍHO OBJEKTU</text><text x="1129" y="1067">STÁJE PADDOCK</text><text x="1129" y="1087">ŘEZ - NÁVRH</text>
<text x="1482" y="1049" text-anchor="end">D.1</text><text x="1482" y="1068" text-anchor="end">SO 05</text><text x="1482" y="1088" text-anchor="end">D.1.1.b.8</text>
</g>
<text x="1397" y="958" font-size="19" fill="#6a7080" style="font-family:'Liberation Serif',serif" textLength="142" lengthAdjust="spacingAndGlyphs">Masák &amp; Partner</text>
<text x="1397" y="964" font-size="3" fill="#888" letter-spacing="1.2">ARCHITECTURE  DESIGN  URBAN PLANNING</text>
<circle cx="1436" cy="939" r="1.5" fill="#f39a1e"/>
</svg>
</body></html>
